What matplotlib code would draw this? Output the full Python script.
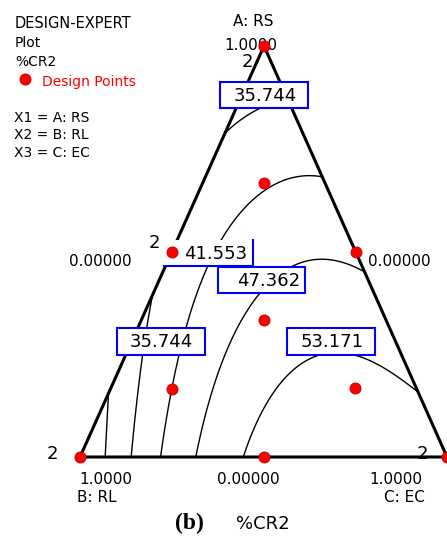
import numpy as np
import matplotlib.pyplot as plt
import matplotlib.tri as mtri
from matplotlib.patches import Rectangle

# mixture model for %CR2, components A: RS, B: RL, C: EC
b_lin = [30.98, 23.76, 55.87]          # A, B, C
b_two = [38.08, 11.19, 60.48]          # AB, AC, BC
b_cub = [-0.75, 2.85, 7.59]            # AB(A-B), AC(A-C), BC(B-C)
b_abc = [-16.38, -32.39, 46.18]        # A2BC, AB2C, ABC2
b_bc4 = -6.46                          # BC(B-C)^2

levels = [29.935, 35.744, 41.553, 47.362, 53.171]

# design points
pt_a = [1, 0, 0, 0.5, 0.5, 0, 2/3, 1/6, 1/6, 1/3]
pt_b = [0, 1, 0, 0.5, 0, 0.5, 1/6, 2/3, 1/6, 1/3]
pt_c = [0, 0, 1, 0, 0.5, 0.5, 1/6, 1/6, 2/3, 1/3]

# contour labels: text, box (left, top, w, h), text centre
lab_txt = ["35.744", "41.553", "47.362", "35.744", "53.171"]
lab_box = [(220, 82, 88, 26), (164, 240, 89, 26), (218, 267, 87, 26),
           (117, 328, 88, 27), (287, 328, 88, 27)]
lab_pos = [(265, 96), (216, 254), (269, 281), (161, 342), (332, 342)]

# triangle corners in pixels: A (top), B (left), C (right)
VA = (264, 46)
VB = (80, 457)
VC = (447, 457)


def to_xy(a, b, c):
    a, b, c = np.asarray(a), np.asarray(b), np.asarray(c)
    x = VA[0] * a + VB[0] * b + VC[0] * c
    y = VA[1] * a + VB[1] * b + VC[1] * c
    return x, y


def model(a, b, c):
    z = b_lin[0] * a + b_lin[1] * b + b_lin[2] * c
    z += b_two[0] * a * b + b_two[1] * a * c + b_two[2] * b * c
    z += b_cub[0] * a * b * (a - b) + b_cub[1] * a * c * (a - c) + b_cub[2] * b * c * (b - c)
    z += a * b * c * (b_abc[0] * a + b_abc[1] * b + b_abc[2] * c)
    z += b_bc4 * b * c * (b - c) ** 2
    return z


n = 150
ga, gb = [], []
for i in range(n + 1):
    for j in range(n + 1 - i):
        ga.append(i / n)
        gb.append(j / n)
ga = np.array(ga)
gb = np.array(gb)
gc = np.clip(1 - ga - gb, 0, 1)
gx, gy = to_xy(ga, gb, gc)
tri = mtri.Triangulation(gx, gy)
z = model(ga, gb, gc)

fig = plt.figure(figsize=(4.47, 5.37), dpi=100)
ax = fig.add_axes([0, 0, 1, 1])
ax.set_xlim(0, 447)
ax.set_ylim(537, 0)
ax.axis("off")

ax.tricontour(tri, z, levels=levels, colors="black", linewidths=1.0, zorder=2)

# triangle outline
tx = [VA[0], VB[0], VC[0], VA[0]]
ty = [VA[1], VB[1], VC[1], VA[1]]
ax.plot(tx, ty, color="black", lw=2.2, solid_joinstyle="miter", zorder=3)

# contour label boxes
for k, (txt, box, pos) in enumerate(zip(lab_txt, lab_box, lab_pos)):
    x0, y0, w, h = box
    if k == 1:
        ax.add_patch(Rectangle((x0, y0), w, h, fc="white", ec="none", zorder=4))
        ax.plot([x0, x0 + w, x0 + w], [y0 + h, y0 + h, y0], color="blue", lw=1.5, zorder=5)
    else:
        ax.add_patch(Rectangle((x0, y0), w, h, fc="white", ec="blue", lw=1.5, zorder=4))
    ax.text(pos[0], pos[1], txt, ha="center", va="center", fontsize=13, zorder=6)

px, py = to_xy(pt_a, pt_b, pt_c)
ax.plot(px, py, "o", ms=8, color="#ff0000", mec="#c00000", mew=0.6, zorder=7, clip_on=False)

# replicate counts
for x, y in [(247, 62), (154, 243), (52, 454), (422, 454)]:
    ax.text(x, y, "2", ha="center", va="center", fontsize=13, zorder=6)

# header
ax.text(15, 24, "DESIGN-EXPERT", fontsize=10.5, va="center")
ax.text(15, 43, "Plot", fontsize=10, va="center")
ax.text(15, 62, "%CR2", fontsize=10, va="center")
ax.plot([25], [79], "o", ms=8, color="#ff0000", mec="#c00000", mew=0.6)
ax.text(42, 82, "Design Points", fontsize=10, va="center", color="#ff0000")
ax.text(14, 118, "X1 = A: RS", fontsize=10, va="center")
ax.text(14, 135, "X2 = B: RL", fontsize=10, va="center")
ax.text(14, 153, "X3 = C: EC", fontsize=10, va="center")

# axis annotations
ax.text(253, 21, "A: RS", fontsize=11, ha="center", va="center")
ax.text(251, 45, "1.0000", fontsize=11, ha="center", va="center")
ax.text(100, 261, "0.00000", fontsize=11, ha="center", va="center")
ax.text(399, 261, "0.00000", fontsize=11, ha="center", va="center")
ax.text(106, 479, "1.0000", fontsize=11, ha="center", va="center")
ax.text(248, 479, "0.00000", fontsize=11, ha="center", va="center")
ax.text(396, 479, "1.0000", fontsize=11, ha="center", va="center")
ax.text(77, 498, "B: RL", fontsize=11, ha="left", va="center")
ax.text(425, 498, "C: EC", fontsize=11, ha="right", va="center")

ax.text(189, 523, "(b)", fontsize=17, fontweight="bold", family="Liberation Serif",
        ha="center", va="center")
ax.text(263, 524, "%CR2", fontsize=13, ha="center", va="center")

fig.savefig("out.png", dpi=100)
